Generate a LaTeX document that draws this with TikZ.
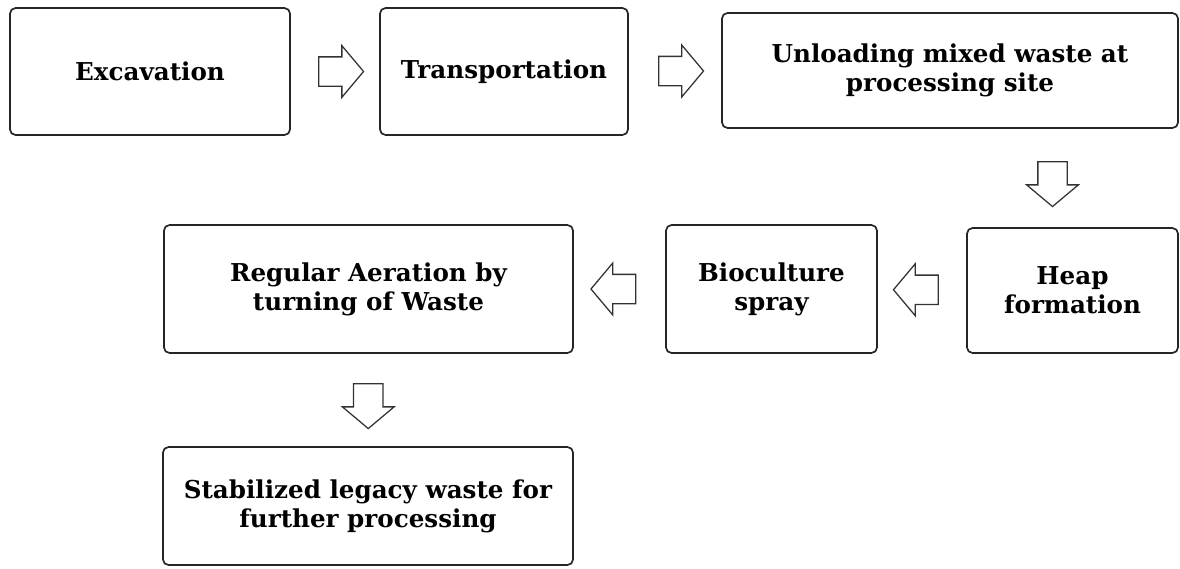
\documentclass[tikz,border=0pt]{standalone}
\usepackage{fontspec}
\setmainfont{DejaVu Serif}
\usepackage{tikz}
\usetikzlibrary{shapes.arrows, positioning, calc}
\tikzset{
  block/.style={
    rectangle, rounded corners=4pt, draw=black!85, line width=1.2pt,
    fill=white, align=center, inner sep=4pt,
    font=\bfseries\fontsize{17.5}{20.5}\selectfont
  },
  flowarrow/.style={
    single arrow, draw=black!80, line width=0.9pt, fill=white,
    minimum height=1.12cm, inner xsep=0pt, inner ysep=0.35cm,
    single arrow head extend=0.28cm, single arrow tip angle=100
  }
}

\begin{document}
\begin{tikzpicture}[x=0.025cm, y=-0.025cm]

\useasboundingbox (0,0) rectangle (1180,568);

% top row
\node[block, minimum width=7cm, minimum height=3.175cm] (exc) at (150,71.5)
  {Excavation};
\node[block, minimum width=6.2cm, minimum height=3.175cm] (trans) at (504,71.5)
  {Transportation};
\node[block, minimum width=11.4cm, minimum height=2.875cm] (unload) at (950,70.5)
  {Unloading mixed waste at\\processing site};

% middle row
\node[block, minimum width=5.275cm, minimum height=3.125cm] (heap) at (1072.5,290.5)
  {Heap\\formation};
\node[block, minimum width=5.275cm, minimum height=3.2cm] (bio) at (771.5,289)
  {Bioculture\\spray};
\node[block, minimum width=10.225cm, minimum height=3.2cm] (aer) at (368.5,289)
  {Regular Aeration by\\turning of Waste};

% bottom row
\node[block, minimum width=10.25cm, minimum height=2.95cm] (stab) at (368,506)
  {Stabilized legacy waste for\\further processing};

% block arrows between the steps
\node[flowarrow] (a1) at ($(exc.east)!0.5!(trans.west)$) {};
\node[flowarrow] (a2) at ($(trans.east)!0.5!(unload.west)$) {};
\node[flowarrow, rotate=-90] (a3)
  at ($(unload.south -| heap.north)!0.5!(heap.north) + (-20,0)$) {};
\node[flowarrow, shape border rotate=180] (a4) at ($(heap.west)!0.5!(bio.east)$) {};
\node[flowarrow, shape border rotate=180] (a5) at ($(bio.west)!0.5!(aer.east)$) {};
\node[flowarrow, rotate=-90] (a6) at ($(aer.south)!0.5!(stab.north)$) {};

\end{tikzpicture}
\end{document}
